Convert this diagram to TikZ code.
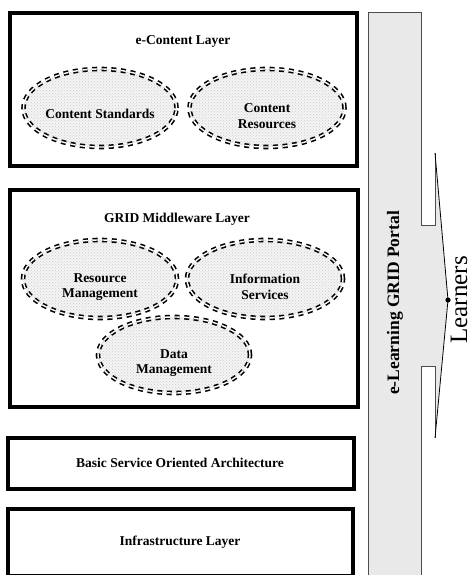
\documentclass[tikz,border=0pt]{standalone}
\usepackage{fontspec}
\setmainfont{Liberation Serif}
\usetikzlibrary{shapes.geometric,patterns,calc}
\tikzset{
    layer/.style={draw, line width=3.2pt},
    blob/.style={ellipse, draw, dash pattern=on 5pt off 4.6pt, double, double distance=1.4pt,
      line width=1.6pt, preaction={fill=gray!9}, pattern=crosshatch dots, pattern color=gray!40,
      minimum width=#1, minimum height=78pt, inner sep=0pt},
    txt/.style={font=\bfseries\fontsize{13.5}{15.5}\selectfont, align=center},
    rim/.style={draw=gray!60!black, line width=0.8pt},
  }
\begin{document}
\begin{tikzpicture}[x=1pt,y=-1pt]
				  %page 474 x 575, y going down
				  \useasboundingbox (0,0) rectangle (474,575);
				  %portal on the right
				  \filldraw[rim, fill=gray!17] (368,12) rectangle (421,585);
				  \node[txt, font=\bfseries\fontsize{17.5}{20}\selectfont, rotate=90] (portal) at (395,303) {e-Learning GRID Portal};
				  %arrow to the learners
				  \coordinate (A) at (421,225);
				  \coordinate (B) at (435,225);
				  \coordinate (C) at (435,153);
				  \coordinate (T) at (448,300);
				  \coordinate (D) at (435,438);
				  \coordinate (E) at (435,366);
				  \coordinate (F) at (421,366);
				  \fill[gray!17] (A) -- (B) -- (C) -- (T) -- (D) -- (E) -- (F) -- cycle;
				  \draw[rim] (A) -- (B) -- (C);
				  \draw[rim] (D) -- (E) -- (F);
				  \draw[line width=0.8pt] (C) -- (T) -- (D);
				  \fill (T) circle (2.6pt);
				  \node[rotate=90, font=\fontsize{25}{29}\selectfont, inner sep=0pt] (learners) at (459,300) {Learners};
				  %e-content layer
				  \draw[layer] (10,13) rectangle (357,166);
				  \node[txt] (ec) at (183,41) {e-Content Layer};
				  \node[blob=153pt] (cs) at (100,108) {};
				  \node[txt] (csT) at ([yshift=-6pt]cs.center) {Content Standards};
				  \node[blob=155pt] (cr) at (267,108) {};
				  \node[txt] (crT) at ([yshift=-8pt]cr.center) {Content\\Resources};
				  %middleware layer
				  \draw[layer] (10,190) rectangle (358,407);
				  \node[txt] (gm) at (177,219) {GRID Middleware Layer};
				  \node[blob=154pt] (rm) at (100,279) {};
				  \node[txt] (rmT) at ([yshift=-8pt]rm.center) {Resource\\Management};
				  \node[blob=156pt] (is) at (265,279) {};
				  \node[txt] (isT) at ([yshift=-8pt]is.center) {Information\\Services};
				  \node[blob=152pt, minimum height=76pt] (dm) at (174,355) {};
				  \node[txt] (dmT) at ([yshift=-8pt]dm.center) {Data\\Management};
				  %lower layers
				  \draw[layer] (8,438) rectangle (354,489);
				  \node[txt] (soa) at (180,463) {Basic Service Oriented Architecture};
				  \draw[layer] (8,509) rectangle (353,576);
				  \node[txt] (inf) at (180,542) {Infrastructure Layer};
				  \end{tikzpicture}
\end{document}
